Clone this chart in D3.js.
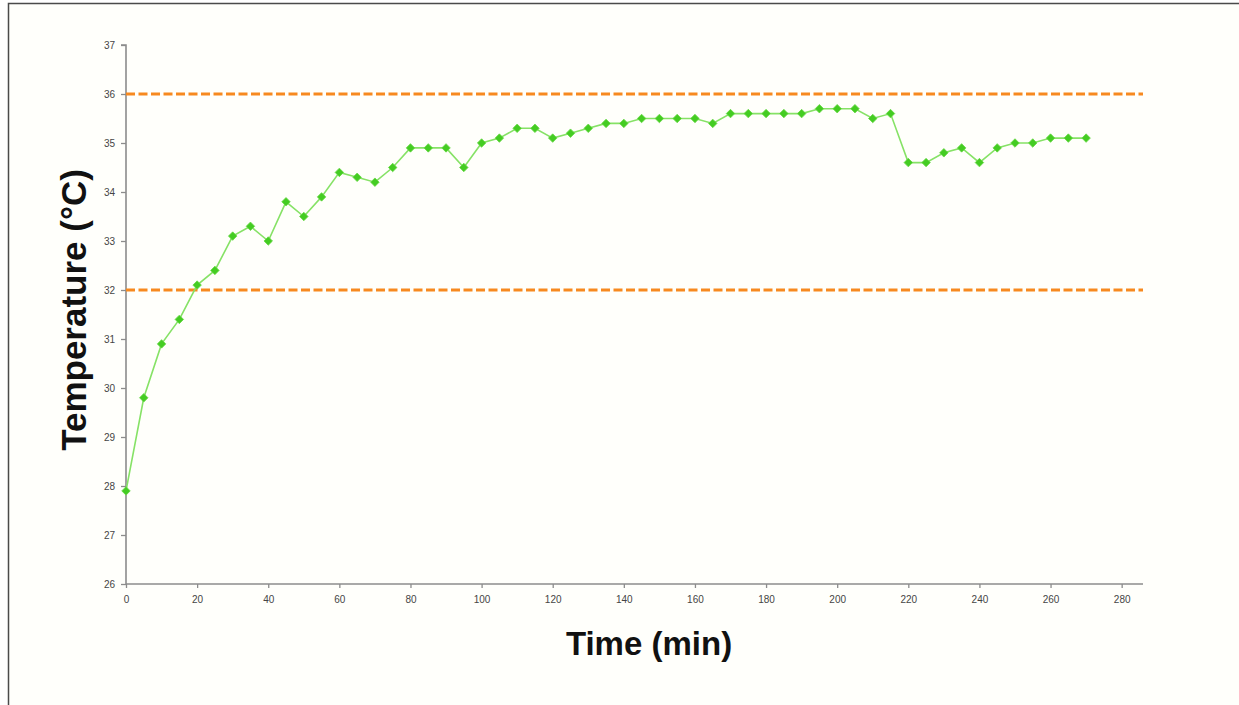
<!DOCTYPE html>
<html>
<head>
<meta charset="utf-8">
<script src="https://cdn.jsdelivr.net/npm/d3@7"></script>
<style>
  html, body { margin: 0; padding: 0; background: #ffffff; }
  svg { display: block; }
</style>
</head>
<body>
<script>
// Incubation temperature log, sampled every 5 minutes
const timeMin = [0,5,10,15,20,25,30,35,40,45,50,55,60,65,70,75,80,85,90,95,
  100,105,110,115,120,125,130,135,140,145,150,155,160,165,170,175,180,185,190,195,
  200,205,210,215,220,225,230,235,240,245,250,255,260,265,270];
const tempC = [27.9,29.8,30.9,31.4,32.1,32.4,33.1,33.3,33.0,33.8,33.5,33.9,34.4,34.3,34.2,34.5,34.9,34.9,34.9,34.5,
  35.0,35.1,35.3,35.3,35.1,35.2,35.3,35.4,35.4,35.5,35.5,35.5,35.5,35.4,35.6,35.6,35.6,35.6,35.6,35.7,
  35.7,35.7,35.5,35.6,34.6,34.6,34.8,34.9,34.6,34.9,35.0,35.0,35.1,35.1,35.1];
// Acceptable range limits
const limits = [32, 36];
const xTicks = [0,20,40,60,80,100,120,140,160,180,200,220,240,260,280];
const yTicks = [26,27,28,29,30,31,32,33,34,35,36,37];

const W = 1239, H = 705;
const svg = d3.select("body").append("svg").attr("width", W).attr("height", H);

// panel background and frame
svg.append("rect").attr("x", 8.5).attr("y", 3.5).attr("width", W).attr("height", H)
  .attr("fill", "#fffffb").attr("stroke", "#4a4a4a").attr("stroke-width", 1.5);

const x = d3.scaleLinear().domain([0, 286]).range([126, 1143]);
const y = d3.scaleLinear().domain([26, 37]).range([584, 45]);

const axisColor = "#8c8c8c";
const tickFont = "'Liberation Sans', Arial, sans-serif";

// y axis
const yAxis = svg.append("g").attr("transform", `translate(${x(0)},0)`)
  .call(d3.axisLeft(y).tickValues(yTicks).tickSize(5).tickPadding(6).tickFormat(d3.format("d")));
// x axis
const xAxis = svg.append("g").attr("transform", `translate(0,${y(26)})`)
  .call(d3.axisBottom(x).tickValues(xTicks).tickSize(4).tickPadding(8).tickFormat(d3.format("d")));

[yAxis, xAxis].forEach(g => {
  g.select(".domain").attr("stroke", axisColor).attr("stroke-width", 1.6);
  g.selectAll(".tick line").attr("stroke", axisColor).attr("stroke-width", 1.3);
  g.selectAll(".tick text").attr("fill", "#454545").style("font-family", tickFont)
    .style("font-size", "10px");
});
yAxis.select(".domain").attr("d", `M-5,${y(37)}H0V${y(26)}`);
xAxis.select(".domain").attr("d", `M${x(0)},0H${x(286)}`);

// limit lines
svg.append("g").selectAll("line").data(limits).join("line")
  .attr("x1", x(0)).attr("x2", x(286))
  .attr("y1", d => y(d)).attr("y2", d => y(d))
  .attr("stroke", "#f7891f").attr("stroke-width", 3)
  .attr("stroke-dasharray", "9,3.5");

// temperature series
const pts = timeMin.map((t, i) => [t, tempC[i]]);
svg.append("path").datum(pts)
  .attr("fill", "none").attr("stroke", "#86e266").attr("stroke-width", 1.6)
  .attr("d", d3.line().x(d => x(d[0])).y(d => y(d[1])));

svg.append("g").selectAll("path").data(pts).join("path")
  .attr("transform", d => `translate(${x(d[0])},${y(d[1])})`)
  .attr("d", d3.symbol().type(d3.symbolDiamond2).size(46))
  .attr("fill", "#44cc22").attr("stroke", "#66d844").attr("stroke-width", 0.8);

// axis titles
svg.append("text").attr("x", 649).attr("y", 655).attr("text-anchor", "middle")
  .style("font-family", "'Liberation Sans', Arial, sans-serif").style("font-weight", "bold")
  .style("font-size", "33px").attr("fill", "#111").text("Time (min)");

svg.append("text").attr("transform", `translate(86,310) rotate(-90)`).attr("text-anchor", "middle")
  .style("font-family", "'Liberation Sans', Arial, sans-serif").style("font-weight", "bold")
  .style("font-size", "35px").attr("fill", "#111").text("Temperature (°C)");
</script>
</body>
</html>
